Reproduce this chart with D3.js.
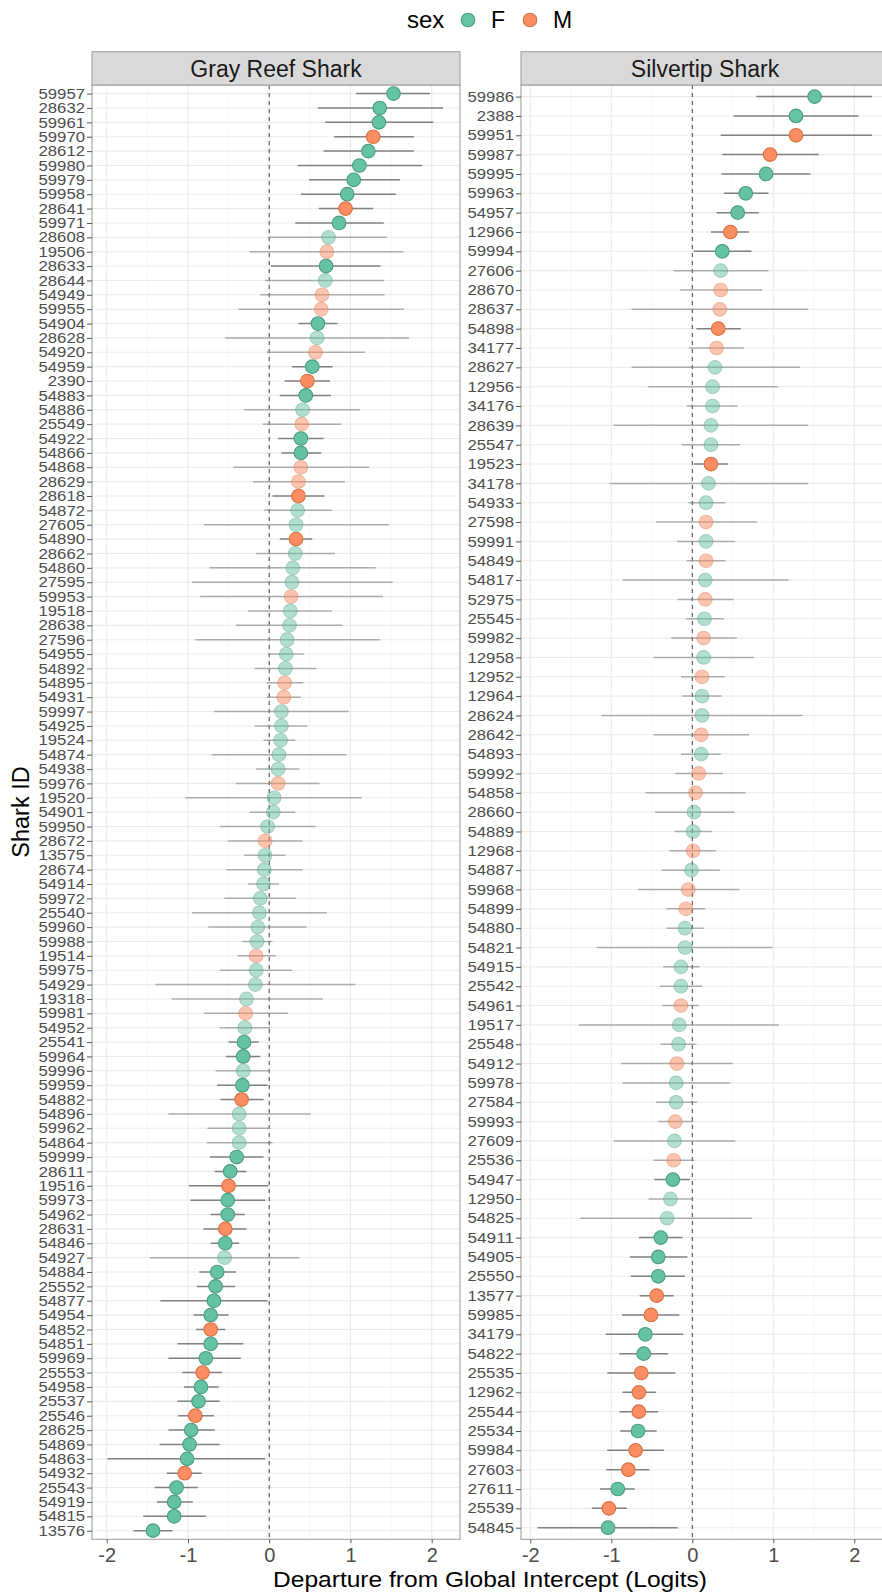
<!DOCTYPE html>
<html>
<head>
<meta charset="utf-8">
<script src="https://cdn.jsdelivr.net/npm/d3@7"></script>
<style>
  body { margin: 0; background: #fff; }
  text { font-family: "Liberation Sans", Arial, sans-serif; }
</style>
</head>
<body>
<svg id="chart" width="882" height="1594"></svg>
<script>
// gray reef shark, top to bottom
var grayIds = ["59957","28632","59961","59970","28612","59980","59979","59958","28641","59971",
  "28608","19506","28633","28644","54949","59955","54904","28628","54920","54959",
  "2390","54883","54886","25549","54922","54866","54868","28629","28618","54872",
  "27605","54890","28662","54860","27595","59953","19518","28638","27596","54955",
  "54892","54895","54931","59997","54925","19524","54874","54938","59976","19520",
  "54901","59950","28672","13575","28674","54914","59972","25540","59960","59988",
  "19514","59975","54929","19318","59981","54952","25541","59964","59996","59959",
  "54882","54896","59962","54864","59999","28611","19516","59973","54962","28631",
  "54846","54927","54884","25552","54877","54954","54852","54851","59969","25553",
  "54958","25537","25546","28625","54869","54863","54932","25543","54919","54815","13576"];
var graySex = ["F","F","F","M","F","F","F","F","M","F",
  "F","M","F","F","M","M","F","F","M","F",
  "M","F","F","M","F","F","M","M","M","F",
  "F","M","F","F","F","M","F","F","F","F",
  "F","M","M","F","F","F","F","F","M","F",
  "F","F","M","F","F","F","F","F","F","F",
  "M","F","F","F","M","F","F","F","F","F",
  "M","F","F","F","F","F","M","F","F","M",
  "F","F","F","F","F","F","M","F","F","M",
  "F","F","M","F","F","F","M","F","F","F","F"];
var grayEst = [1.53,1.36,1.35,1.28,1.22,1.11,1.04,0.96,0.94,0.86,
  0.73,0.71,0.70,0.69,0.65,0.64,0.60,0.59,0.57,0.53,
  0.47,0.45,0.41,0.40,0.39,0.39,0.39,0.36,0.36,0.35,
  0.33,0.33,0.32,0.29,0.28,0.27,0.26,0.25,0.22,0.21,
  0.20,0.19,0.18,0.15,0.15,0.14,0.12,0.11,0.11,0.06,
  0.05,-0.02,-0.05,-0.05,-0.06,-0.07,-0.11,-0.12,-0.14,-0.15,
  -0.16,-0.16,-0.17,-0.28,-0.29,-0.30,-0.31,-0.32,-0.32,-0.33,
  -0.34,-0.37,-0.37,-0.37,-0.40,-0.48,-0.50,-0.51,-0.51,-0.54,
  -0.54,-0.55,-0.64,-0.66,-0.68,-0.72,-0.72,-0.72,-0.78,-0.82,
  -0.84,-0.87,-0.91,-0.96,-0.98,-1.01,-1.04,-1.14,-1.17,-1.17,-1.43];
var grayLo = [1.07,0.60,0.69,0.80,0.67,0.35,0.49,0.39,0.61,0.32,
  -0.01,-0.24,0.02,-0.05,-0.11,-0.38,0.36,-0.54,-0.03,0.28,
  0.19,0.13,-0.31,-0.08,0.11,0.15,-0.44,-0.20,0.04,-0.06,
  -0.80,0.13,-0.16,-0.73,-0.95,-0.85,-0.26,-0.41,-0.91,-0.01,
  -0.18,-0.03,-0.03,-0.68,-0.18,-0.07,-0.71,-0.16,-0.41,-1.03,
  -0.24,-0.61,-0.51,-0.31,-0.53,-0.26,-0.55,-0.95,-0.75,-0.33,
  -0.39,-0.61,-1.40,-1.20,-0.80,-0.61,-0.50,-0.53,-0.66,-0.64,
  -0.60,-1.24,-0.76,-0.77,-0.73,-0.67,-0.99,-0.97,-0.72,-0.81,
  -0.72,-1.47,-0.86,-0.89,-1.34,-0.93,-0.90,-1.13,-1.24,-1.07,
  -1.05,-1.13,-1.12,-1.24,-1.35,-1.99,-1.26,-1.41,-1.38,-1.55,-1.67];
var grayHi = [1.98,2.14,2.02,1.78,1.78,1.88,1.61,1.56,1.28,1.41,
  1.45,1.65,1.37,1.41,1.42,1.66,0.84,1.72,1.18,0.78,
  0.75,0.76,1.12,0.89,0.67,0.64,1.23,0.93,0.68,0.77,
  1.47,0.53,0.81,1.31,1.52,1.40,0.77,0.90,1.36,0.43,
  0.58,0.42,0.39,0.98,0.47,0.32,0.95,0.37,0.62,1.14,
  0.32,0.57,0.41,0.20,0.41,0.12,0.33,0.71,0.46,0.04,
  0.08,0.28,1.06,0.66,0.23,0.01,-0.13,-0.11,0.01,-0.02,
  -0.07,0.51,0.01,0.04,-0.07,-0.28,-0.01,-0.05,-0.30,-0.28,
  -0.37,0.37,-0.41,-0.42,-0.02,-0.50,-0.54,-0.32,-0.35,-0.58,
  -0.62,-0.61,-0.68,-0.67,-0.61,-0.05,-0.83,-0.88,-0.94,-0.78,-1.19];

// silvertip shark, top to bottom
var silverIds = ["59986","2388","59951","59987","59995","59963","54957","12966","59994","27606",
  "28670","28637","54898","34177","28627","12956","34176","28639","25547","19523",
  "34178","54933","27598","59991","54849","54817","52975","25545","59982","12958",
  "12952","12964","28624","28642","54893","59992","54858","28660","54889","12968",
  "54887","59968","54899","54880","54821","54915","25542","54961","19517","25548",
  "54912","59978","27584","59993","27609","25536","54947","12950","54825","54911",
  "54905","25550","13577","59985","34179","54822","25535","12962","25544","25534",
  "59984","27603","27611","25539","54845"];
var silverSex = ["F","F","M","M","F","F","F","M","F","F",
  "M","M","M","M","F","F","F","F","F","M",
  "F","F","M","F","M","F","M","F","M","F",
  "M","F","F","M","F","M","M","F","F","M",
  "F","M","M","F","F","F","F","M","F","F",
  "M","F","F","M","F","M","F","F","F","F",
  "F","F","M","M","F","F","M","M","M","F",
  "M","M","F","M","F"];
var silverEst = [1.51,1.28,1.28,0.96,0.91,0.66,0.56,0.47,0.37,0.35,
  0.35,0.34,0.32,0.30,0.28,0.25,0.25,0.23,0.23,0.23,
  0.20,0.17,0.17,0.17,0.17,0.16,0.16,0.15,0.14,0.14,
  0.12,0.12,0.12,0.11,0.11,0.08,0.04,0.02,0.01,0.01,
  -0.01,-0.05,-0.08,-0.09,-0.09,-0.14,-0.14,-0.14,-0.16,-0.17,
  -0.19,-0.20,-0.20,-0.21,-0.22,-0.23,-0.24,-0.27,-0.31,-0.39,
  -0.42,-0.42,-0.44,-0.51,-0.58,-0.60,-0.63,-0.66,-0.66,-0.67,
  -0.70,-0.79,-0.92,-1.03,-1.04];
var silverLo = [0.79,0.51,0.35,0.37,0.36,0.39,0.30,0.23,0.02,-0.23,
  -0.15,-0.75,0.05,-0.04,-0.75,-0.55,-0.07,-0.97,-0.13,0.02,
  -1.02,-0.05,-0.45,-0.19,-0.07,-0.86,-0.18,-0.08,-0.26,-0.48,
  -0.14,-0.12,-1.12,-0.48,-0.14,-0.21,-0.58,-0.46,-0.22,-0.28,
  -0.38,-0.67,-0.32,-0.32,-1.18,-0.36,-0.40,-0.37,-1.40,-0.39,
  -0.88,-0.86,-0.45,-0.42,-0.97,-0.48,-0.47,-0.54,-1.38,-0.66,
  -0.77,-0.76,-0.65,-0.87,-1.07,-0.90,-1.05,-0.86,-0.90,-0.89,
  -1.05,-1.06,-1.14,-1.24,-1.91];
var silverHi = [2.22,2.05,2.22,1.56,1.46,0.94,0.82,0.70,0.73,0.94,
  0.86,1.43,0.60,0.64,1.33,1.06,0.56,1.43,0.59,0.44,
  1.43,0.41,0.80,0.53,0.41,1.19,0.51,0.39,0.55,0.76,
  0.40,0.36,1.36,0.70,0.35,0.38,0.66,0.52,0.24,0.29,
  0.34,0.58,0.16,0.14,0.99,0.09,0.12,0.08,1.07,0.05,
  0.50,0.47,0.06,0.01,0.53,0.02,-0.03,0.01,0.74,-0.12,
  -0.06,-0.09,-0.23,-0.16,-0.11,-0.30,-0.21,-0.45,-0.42,-0.44,
  -0.35,-0.53,-0.71,-0.81,-0.18];

var xTicks = [-2, -1, 0, 1, 2];
var xMinor = [-1.5, -0.5, 0.5, 1.5];

var fillColor = { F: "#66C2A5", M: "#FC8D62" };
var edgeColor = { F: "#479c80", M: "#d8703f" };

var svg = d3.select("#chart");

var plotTop = 85,
    plotBottom = 1539.3,
    stripTop = 51.7;

var panels = [
  { title: "Gray Reef Shark", ids: grayIds, sex: graySex, est: grayEst, lo: grayLo, hi: grayHi,
    left: 92, right: 460, r0: 106.7, r1: 431.7 },
  { title: "Silvertip Shark", ids: silverIds, sex: silverSex, est: silverEst, lo: silverLo, hi: silverHi,
    left: 521, right: 889, r0: 530.3, r1: 854.3 }
];

panels.forEach(function(p) {
  var x = d3.scaleLinear().domain([-2, 2]).range([p.r0, p.r1]);
  var y = d3.scalePoint().domain(p.ids).range([plotTop, plotBottom]).padding(0.6);

  var rows = p.ids.map(function(id, i) {
    return { id: id, sex: p.sex[i], est: p.est[i], lo: p.lo[i], hi: p.hi[i],
             sig: p.lo[i] > 0 || p.hi[i] < 0 };
  });

  var g = svg.append("g");

  // grid
  g.selectAll(".minor").data(xMinor).enter().append("line")
      .attr("x1", function(d) { return x(d); })
      .attr("x2", function(d) { return x(d); })
      .attr("y1", plotTop).attr("y2", plotBottom)
      .attr("stroke", "#f3f3f3").attr("stroke-width", 0.7);

  g.selectAll(".vmajor").data(xTicks).enter().append("line")
      .attr("x1", function(d) { return x(d); })
      .attr("x2", function(d) { return x(d); })
      .attr("y1", plotTop).attr("y2", plotBottom)
      .attr("stroke", "#ebebeb").attr("stroke-width", 1.1);

  g.selectAll(".hmajor").data(p.ids).enter().append("line")
      .attr("x1", p.left).attr("x2", p.right)
      .attr("y1", function(d) { return y(d); })
      .attr("y2", function(d) { return y(d); })
      .attr("stroke", "#ebebeb").attr("stroke-width", 1.1);

  // zero reference
  g.append("line")
      .attr("x1", x(0)).attr("x2", x(0))
      .attr("y1", plotTop).attr("y2", plotBottom)
      .attr("stroke", "#444").attr("stroke-width", 1)
      .attr("stroke-dasharray", "4,4");

  // intervals
  g.selectAll(".ci").data(rows).enter().append("line")
      .attr("x1", function(d) { return x(d.lo); })
      .attr("x2", function(d) { return x(d.hi); })
      .attr("y1", function(d) { return y(d.id); })
      .attr("y2", function(d) { return y(d.id); })
      .attr("stroke", "#808080").attr("stroke-width", 1.5)
      .attr("opacity", function(d) { return d.sig ? 1 : 0.6; });

  // points
  g.selectAll(".pt").data(rows).enter().append("circle")
      .attr("cx", function(d) { return x(d.est); })
      .attr("cy", function(d) { return y(d.id); })
      .attr("r", 6.8)
      .attr("fill", function(d) { return fillColor[d.sex]; })
      .attr("stroke", function(d) { return edgeColor[d.sex]; })
      .attr("stroke-width", 1.1)
      .attr("opacity", function(d) { return d.sig ? 1 : 0.5; });

  // panel border
  g.append("rect")
      .attr("x", p.left).attr("y", plotTop)
      .attr("width", p.right - p.left).attr("height", plotBottom - plotTop)
      .attr("fill", "none").attr("stroke", "#a0a0a0").attr("stroke-width", 1.1);

  // strip
  g.append("rect")
      .attr("x", p.left).attr("y", stripTop)
      .attr("width", p.right - p.left).attr("height", plotTop - stripTop)
      .attr("fill", "#d9d9d9").attr("stroke", "#a0a0a0").attr("stroke-width", 1.1);
  g.append("text")
      .attr("x", (p.left + p.right) / 2).attr("y", 77.3)
      .attr("text-anchor", "middle")
      .attr("font-size", 23).attr("fill", "#1a1a1a")
      .text(p.title);

  // axes
  var yAxis = g.append("g")
      .attr("transform", "translate(" + p.left + ",0)")
      .call(d3.axisLeft(y).tickSize(5).tickPadding(2));
  yAxis.select(".domain").remove();
  yAxis.selectAll("line").attr("stroke", "#555");
  yAxis.selectAll("text")
      .attr("font-family", "Liberation Sans, Arial, sans-serif")
      .attr("font-size", 14.5).attr("fill", "#4d4d4d")
      .attr("textLength", function(d) { return d.length * 9.3; })
      .attr("lengthAdjust", "spacingAndGlyphs");

  var xAxis = g.append("g")
      .attr("transform", "translate(0," + plotBottom + ")")
      .call(d3.axisBottom(x).tickValues(xTicks).tickSize(4).tickPadding(5)
            .tickFormat(function(d) { return String(d); }));
  xAxis.select(".domain").remove();
  xAxis.selectAll("line").attr("stroke", "#555");
  xAxis.selectAll("text")
      .attr("font-family", "Liberation Sans, Arial, sans-serif")
      .attr("font-size", 20).attr("fill", "#4d4d4d");
});

// axis titles
svg.append("text")
    .attr("x", 490).attr("y", 1587)
    .attr("text-anchor", "middle")
    .attr("font-size", 22)
    .attr("textLength", 434).attr("lengthAdjust", "spacingAndGlyphs")
    .text("Departure from Global Intercept (Logits)");

svg.append("text")
    .attr("transform", "translate(29,812) rotate(-90)")
    .attr("text-anchor", "middle")
    .attr("font-size", 23.5)
    .text("Shark ID");

// legend
var legend = svg.append("g");
legend.append("text")
    .attr("x", 407).attr("y", 28)
    .attr("font-size", 24)
    .text("sex");
var legendKeys = [{ key: "F", cx: 468, tx: 491 }, { key: "M", cx: 530, tx: 553 }];
legend.selectAll(".lk").data(legendKeys).enter().append("circle")
    .attr("cx", function(d) { return d.cx; })
    .attr("cy", 20)
    .attr("r", 6.8)
    .attr("fill", function(d) { return fillColor[d.key]; })
    .attr("stroke", function(d) { return edgeColor[d.key]; })
    .attr("stroke-width", 1.1);
legend.selectAll(".lt").data(legendKeys).enter().append("text")
    .attr("x", function(d) { return d.tx; })
    .attr("y", 28)
    .attr("font-size", 23)
    .text(function(d) { return d.key; });
</script>
</body>
</html>
